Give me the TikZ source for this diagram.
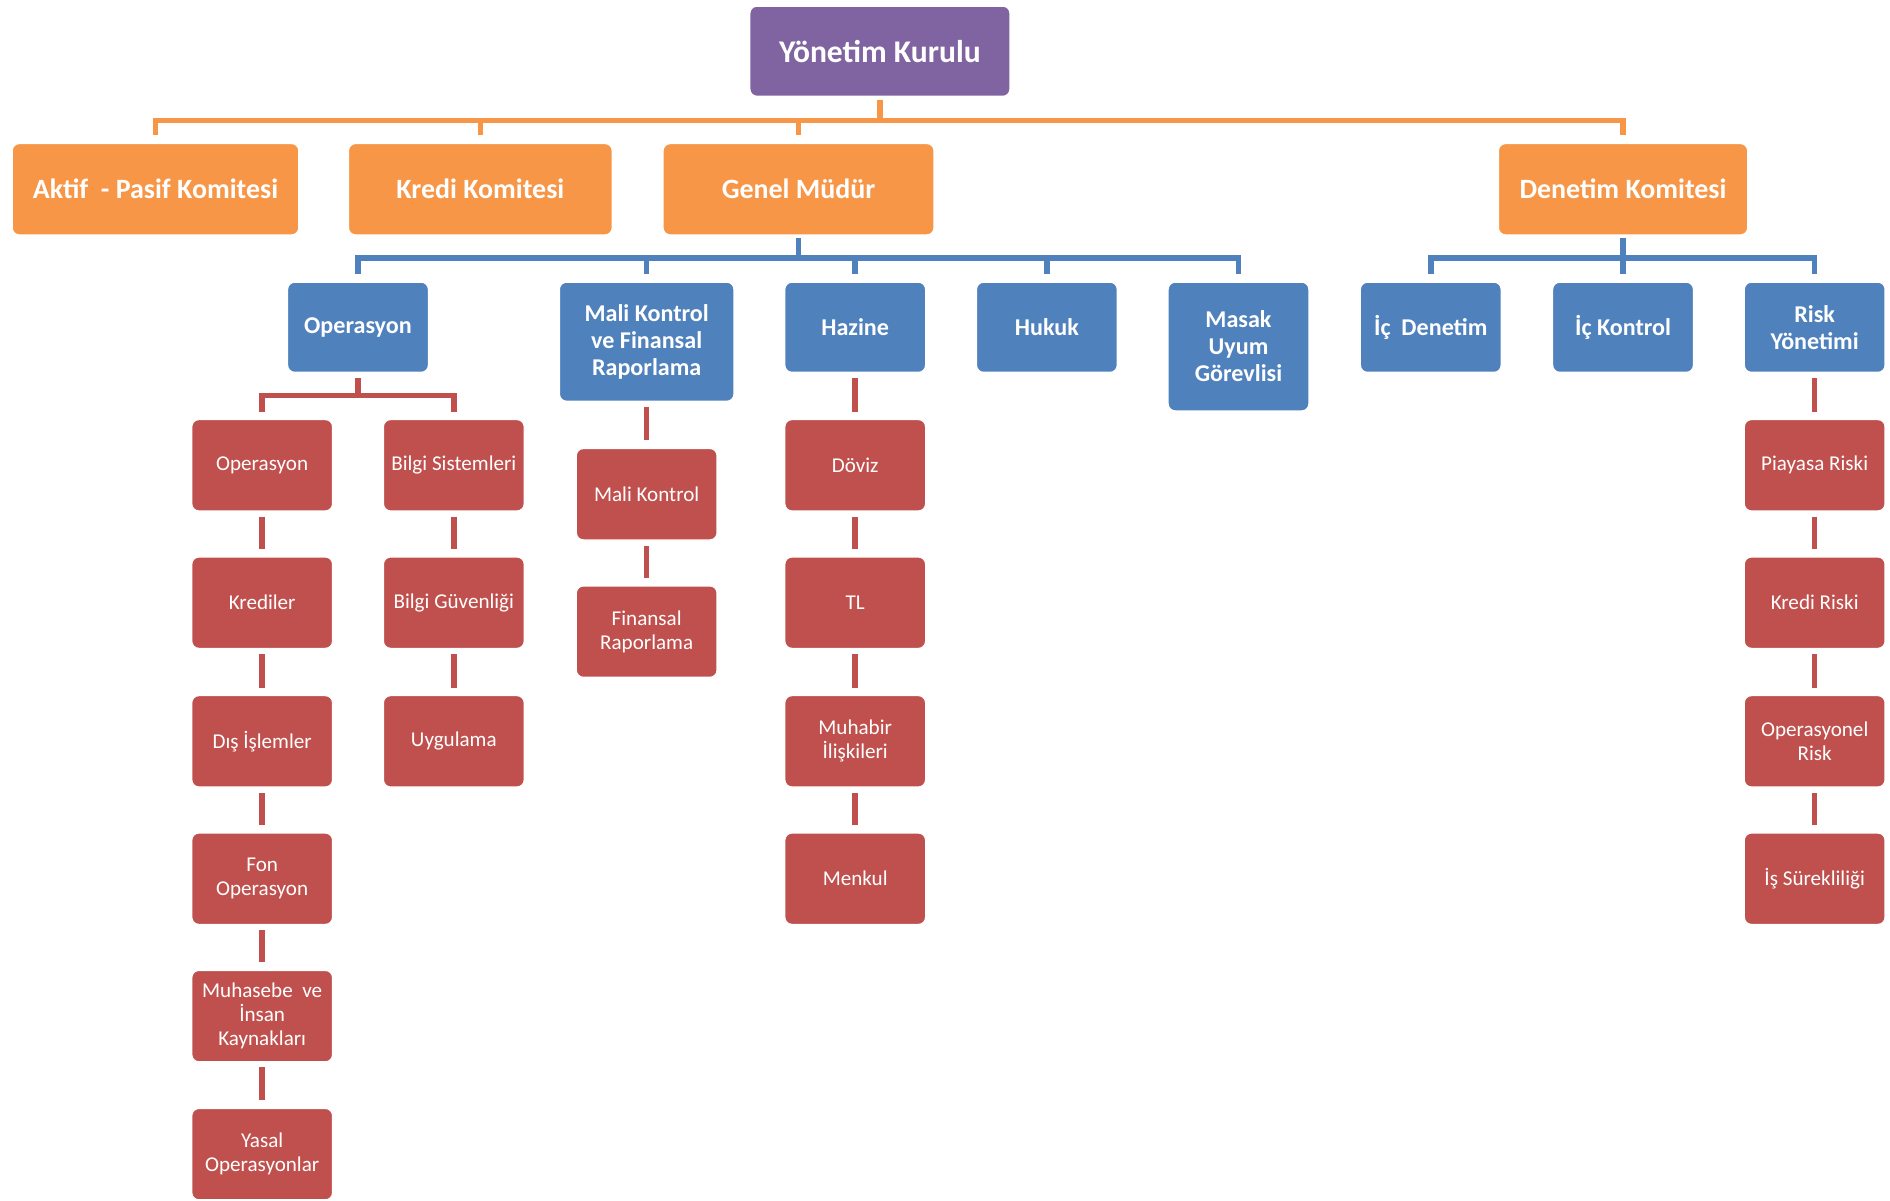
\documentclass[tikz,border=0pt]{standalone}
\usepackage{fontspec}
\setmainfont{Carlito}
\definecolor{cpur}{HTML}{8064A2}
\definecolor{cora}{HTML}{F79646}
\definecolor{cblu}{HTML}{4F81BD}
\definecolor{cred}{HTML}{C0504D}
\begin{document}
\begin{tikzpicture}[x=0.5pt,y=-0.5pt,
  boxbase/.style={rounded corners=3pt, draw=white, line width=0.6pt, text=white, align=center, inner sep=1pt},
  pbox/.style={boxbase, fill=cpur, font=\fontsize{13.1}{15}\selectfont\bfseries, minimum width=108pt, minimum height=37.5pt},
  obox/.style={boxbase, fill=cora, font=\fontsize{11.6}{13.5}\selectfont\bfseries, minimum height=38pt},
  bbox/.style={boxbase, fill=cblu, font=\fontsize{10}{11.2}\selectfont\bfseries, minimum width=58.5pt, minimum height=37.5pt},
  rbox/.style={boxbase, fill=cred, font=\fontsize{8.75}{10}\selectfont, minimum width=58.5pt, minimum height=38pt},
  oline/.style={draw=cora, line width=2.3pt, shorten <=1pt, shorten >=3pt},
  bline/.style={draw=cblu, line width=2.3pt, shorten <=1pt, shorten >=3pt},
  rline/.style={draw=cred, line width=2.3pt, shorten <=2pt, shorten >=3pt},
]
\useasboundingbox (0,0) rectangle (1568,996);
% top
\node[pbox] (yk) at (730,42.5) {Yönetim Kurulu};
% orange
\node[obox, minimum width=119pt] (ap) at (129,157) {Aktif \ - Pasif Komitesi};
\node[obox, minimum width=109.5pt] (kk) at (398.5,157) {Kredi Komitesi};
\node[obox, minimum width=112.5pt] (gm) at (662.5,157) {Genel Müdür};
\node[obox, minimum width=103.5pt] (dk) at (1346.5,157) {Denetim Komitesi};
\coordinate (obus) at (0,100);
\foreach \c in {ap,kk,gm,dk}{
  \draw[oline] (yk.south) -- (yk.south |- obus) -| (\c.north);
}
% blue
\node[bbox] (op) at (297,271.5) {Operasyon};
\node[bbox, minimum width=72.5pt, minimum height=49.5pt] (mk) at (536.5,283.5) {Mali Kontrol\\ve Finansal\\Raporlama};
\node[bbox] (hz) at (709.5,271.5) {Hazine};
\node[bbox] (hk) at (868.5,271.5) {Hukuk};
\node[bbox, minimum height=53.5pt] (ms) at (1027.5,287.5) {Masak\\Uyum\\Görevlisi};
\node[bbox] (id) at (1187,271.5) {İç \ Denetim};
\node[bbox] (ik) at (1346.5,271.5) {İç Kontrol};
\node[bbox] (ry) at (1505.5,271.5) {Risk\\Yönetimi};
\coordinate (bbus) at (0,214);
\foreach \c in {op,mk,hz,hk,ms}{
  \draw[bline] (gm.south) -- (gm.south |- bbus) -| (\c.north);
}
\foreach \c in {id,ik,ry}{
  \draw[bline] (dk.south) -- (dk.south |- bbus) -| (\c.north);
}
% red - operasyon branch
\node[rbox] (o1) at (217.5,386) {Operasyon};
\node[rbox] (o2) at (217.5,500) {Krediler};
\node[rbox] (o3) at (217.5,615) {Dış İşlemler};
\node[rbox] (o4) at (217.5,729) {Fon\\Operasyon};
\node[rbox] (o5) at (217.5,843) {Muhasebe \ ve\\İnsan\\Kaynakları};
\node[rbox] (o6) at (217.5,957.5) {Yasal\\Operasyonlar};
\node[rbox] (b1) at (376.5,386) {Bilgi Sistemleri};
\node[rbox] (b2) at (376.5,500) {Bilgi Güvenliği};
\node[rbox] (b3) at (376.5,615) {Uygulama};
\coordinate (rbus) at (0,328);
\foreach \c in {o1,b1}{
  \draw[rline] (op.south) -- (op.south |- rbus) -| (\c.north);
}
\draw[rline] (o1) -- (o2);
\draw[rline] (o2) -- (o3);
\draw[rline] (o3) -- (o4);
\draw[rline] (o4) -- (o5);
\draw[rline] (o5) -- (o6);
\draw[rline] (b1) -- (b2);
\draw[rline] (b2) -- (b3);
% mali kontrol branch
\node[rbox] (m1) at (536.5,410) {Mali Kontrol};
\node[rbox] (m2) at (536.5,524) {Finansal\\Raporlama};
\draw[rline] (mk) -- (m1);
\draw[rline] (m1) -- (m2);
% hazine branch
\node[rbox] (h1) at (709.5,386) {Döviz};
\node[rbox] (h2) at (709.5,500) {TL};
\node[rbox] (h3) at (709.5,615) {Muhabir\\İlişkileri};
\node[rbox] (h4) at (709.5,729) {Menkul};
\draw[rline] (hz) -- (h1);
\draw[rline] (h1) -- (h2);
\draw[rline] (h2) -- (h3);
\draw[rline] (h3) -- (h4);
% risk branch
\node[rbox] (r1) at (1505.5,386) {Piayasa Riski};
\node[rbox] (r2) at (1505.5,500) {Kredi Riski};
\node[rbox] (r3) at (1505.5,615) {Operasyonel\\Risk};
\node[rbox] (r4) at (1505.5,729) {İş Sürekliliği};
\draw[rline] (ry) -- (r1);
\draw[rline] (r1) -- (r2);
\draw[rline] (r2) -- (r3);
\draw[rline] (r3) -- (r4);
\end{tikzpicture}
\end{document}
